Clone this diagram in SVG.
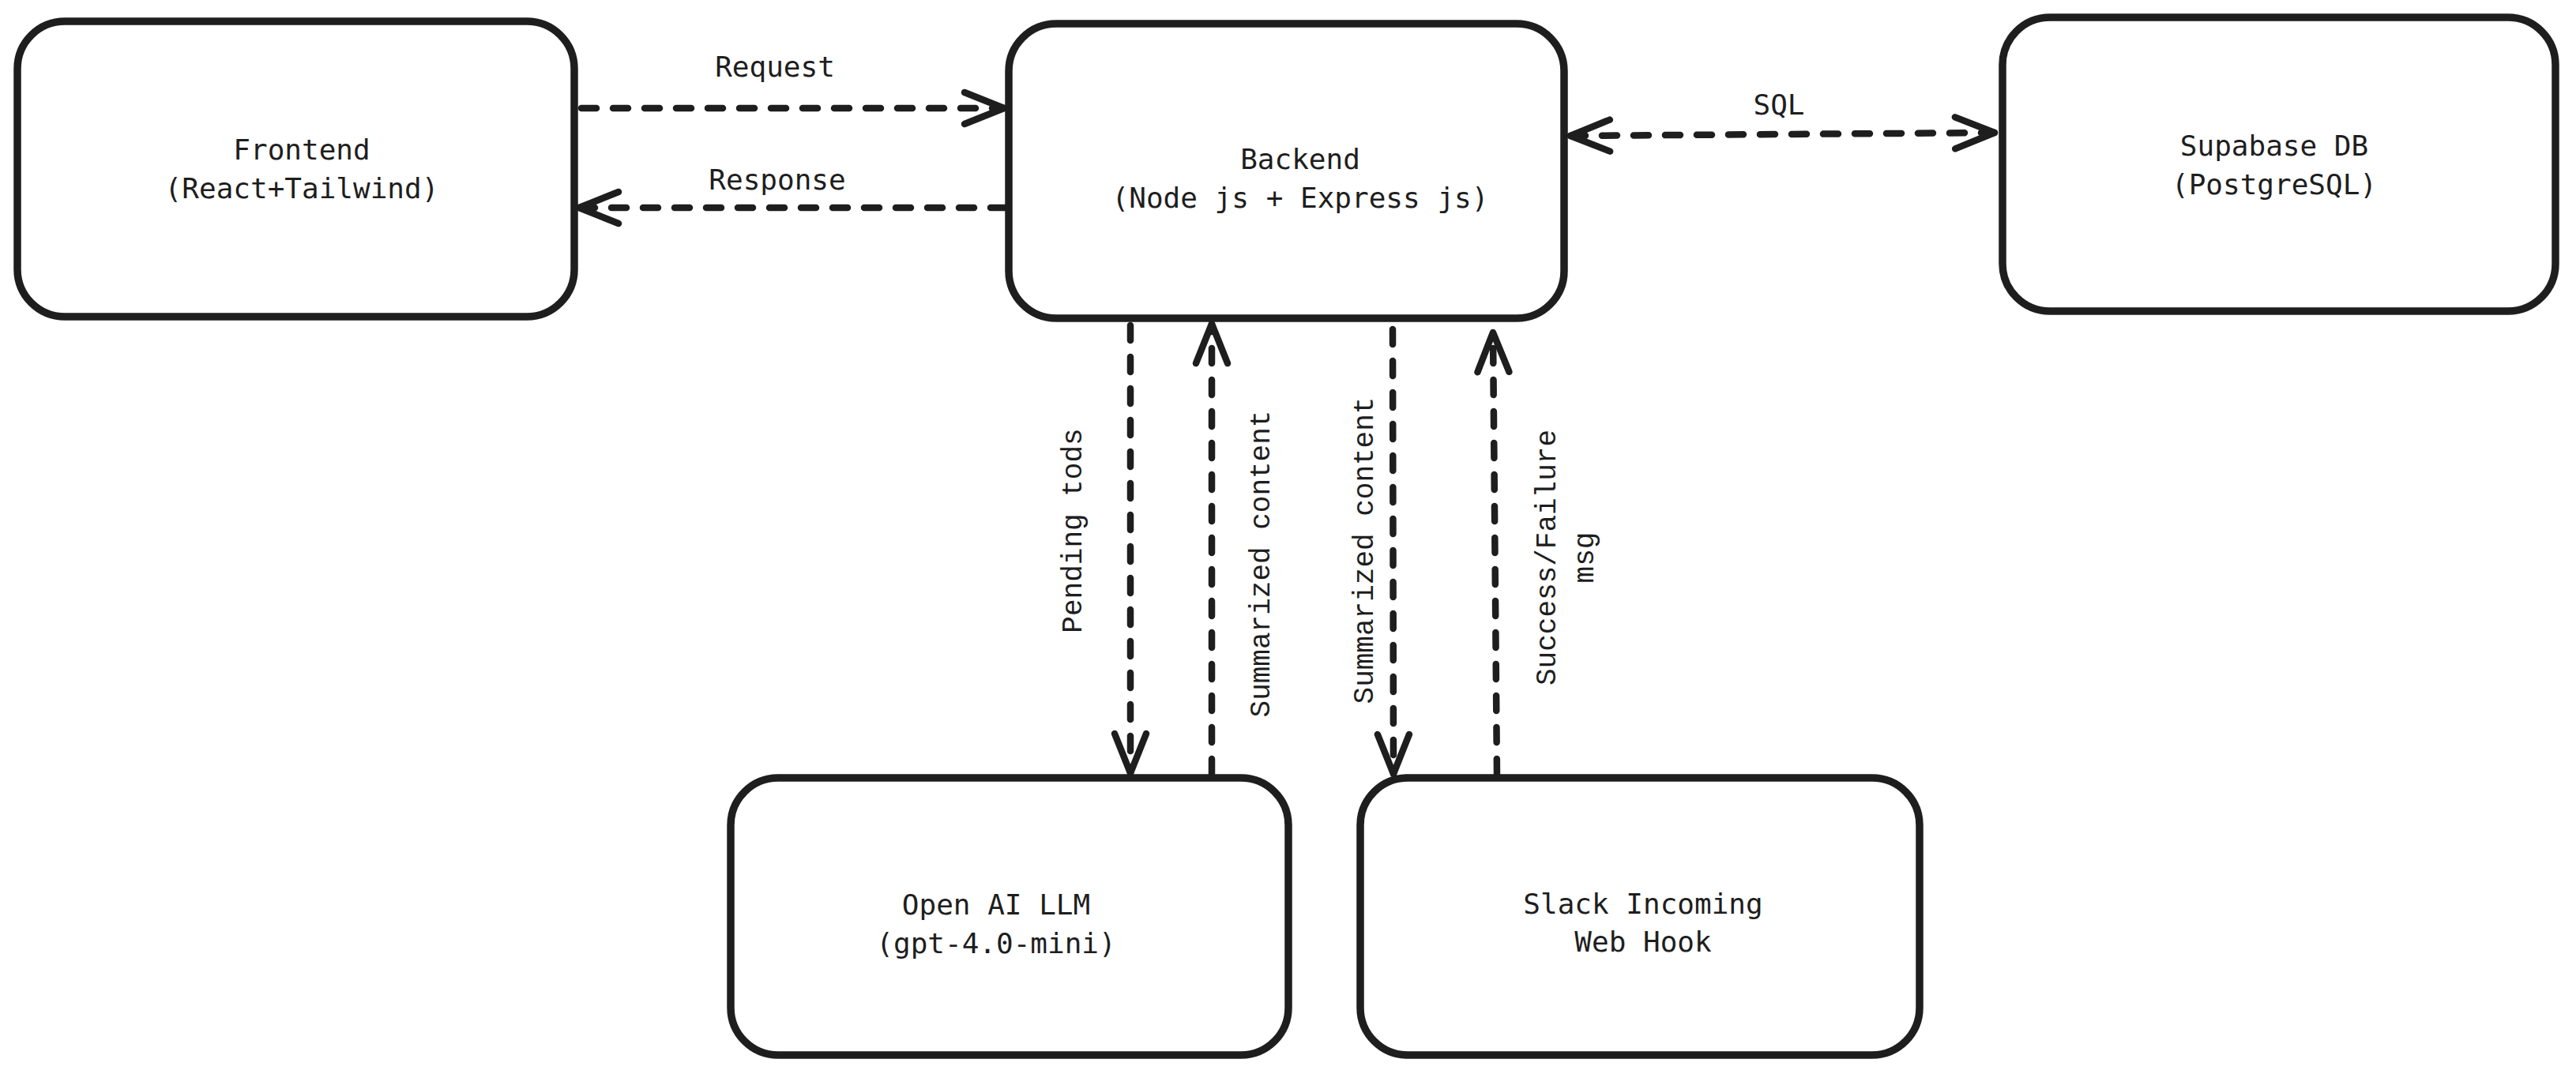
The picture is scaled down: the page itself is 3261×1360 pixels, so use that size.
<svg xmlns="http://www.w3.org/2000/svg" width="3261" height="1360" viewBox="0 0 3261 1360">
  <style>
    .box { fill: #ffffff; stroke: #1e1e1e; stroke-width: 9.5; }
    .lbl { font-family: "DejaVu Sans Mono", "Liberation Mono", monospace; font-size: 36px; fill: #1e1e1e; text-anchor: middle; }
    .rot { font-family: "Liberation Mono", "DejaVu Sans Mono", monospace; font-size: 36px; fill: #1e1e1e; text-anchor: middle; }
    .edge { fill: none; stroke: #1e1e1e; stroke-width: 8.5; stroke-linecap: round; stroke-dasharray: 19 21; }
  </style>
  <defs>
    <marker id="arr" viewBox="-60 -30 70 60" refX="0" refY="0" markerWidth="70" markerHeight="60" markerUnits="userSpaceOnUse" orient="auto-start-reverse" overflow="visible">
      <path d="M-50,-20 L0,0 L-50,20" fill="none" stroke="#1e1e1e" stroke-width="8.5" stroke-linecap="round" stroke-linejoin="round"/>
    </marker>
  </defs>
  <rect width="3261" height="1360" fill="#ffffff"/>

  <g id="connectors">
    <g id="e-request">
      <path class="edge" d="M736,137 L1271,137" marker-end="url(#arr)"/>
      <text class="lbl" x="981" y="97">Request</text>
    </g>
    <g id="e-response">
      <path class="edge" d="M1273,263 L733,263" marker-end="url(#arr)"/>
      <text class="lbl" x="984" y="240">Response</text>
    </g>
    <g id="e-sql">
      <path class="edge" d="M1988,172 L2525,168" marker-start="url(#arr)" marker-end="url(#arr)"/>
      <text class="lbl" x="2252" y="145">SQL</text>
    </g>
    <g id="e-pending">
      <path class="edge" d="M1431,412 L1431,979" marker-end="url(#arr)"/>
      <text class="rot" transform="translate(1369,672) rotate(-90)">Pending tods</text>
    </g>
    <g id="e-summ-llm">
      <path class="edge" d="M1534,980 L1534,410" marker-end="url(#arr)"/>
      <text class="rot" transform="translate(1607,714) rotate(-90)">Summarized content</text>
    </g>
    <g id="e-summ-slack">
      <path class="edge" d="M1763,417 L1764,980" marker-end="url(#arr)"/>
      <text class="rot" transform="translate(1738,697) rotate(-90)">Summarized content</text>
    </g>
    <g id="e-status">
      <path class="edge" d="M1895,980 L1890,421" marker-end="url(#arr)"/>
      <text class="rot" transform="translate(1969,706) rotate(-90)"><tspan x="0" y="0">Success/Failure</tspan><tspan x="0" y="48">msg</tspan></text>
    </g>
  </g>

  <g id="frontend">
    <rect class="box" x="22" y="27" width="705" height="374" rx="60" ry="60"/>
    <text class="lbl" x="382" y="202">Frontend</text>
    <text class="lbl" x="382" y="251">(React+Tailwind)</text>
  </g>
  <g id="backend">
    <rect class="box" x="1277" y="30" width="703" height="373" rx="60" ry="60"/>
    <text class="lbl" x="1646" y="214">Backend</text>
    <text class="lbl" x="1646" y="263">(Node js + Express js)</text>
  </g>
  <g id="supabase">
    <rect class="box" x="2535" y="22" width="700" height="372" rx="60" ry="60"/>
    <text class="lbl" x="2879" y="197">Supabase DB</text>
    <text class="lbl" x="2879" y="246">(PostgreSQL)</text>
  </g>
  <g id="openai">
    <rect class="box" x="925" y="985" width="706" height="351" rx="60" ry="60"/>
    <text class="lbl" x="1261" y="1158">Open AI LLM</text>
    <text class="lbl" x="1261" y="1207">(gpt-4.0-mini)</text>
  </g>
  <g id="slack">
    <rect class="box" x="1722" y="985" width="708" height="351" rx="60" ry="60"/>
    <text class="lbl" x="2080" y="1157">Slack Incoming</text>
    <text class="lbl" x="2080" y="1205">Web Hook</text>
  </g>
</svg>
